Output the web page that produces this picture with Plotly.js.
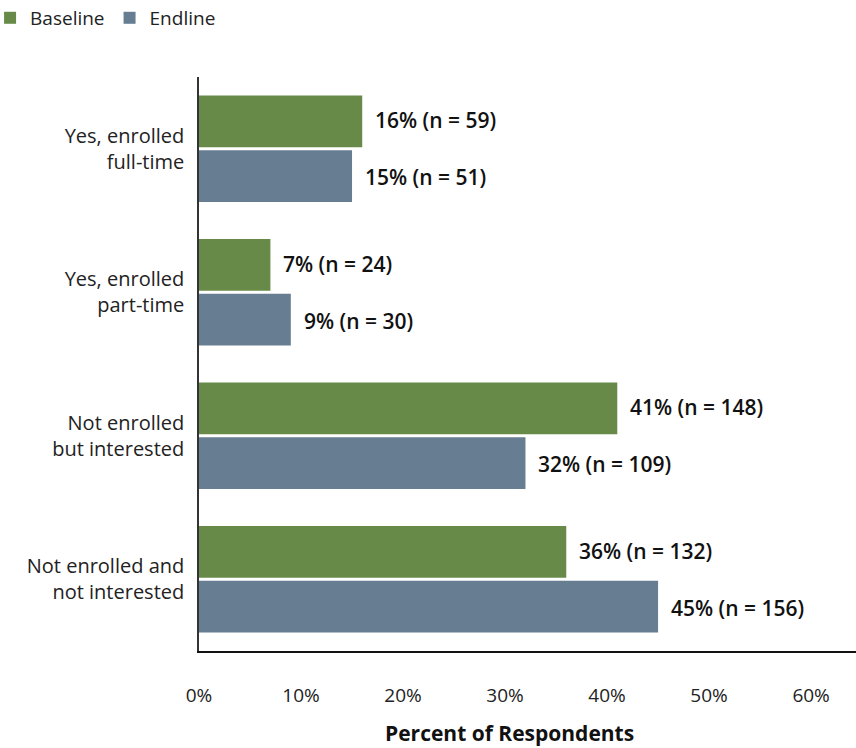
<!DOCTYPE html>
<html><head><meta charset="utf-8">
<script src="https://cdn.plot.ly/plotly-3.0.1.min.js"></script>
<style>body{margin:0;background:#fff}#c{width:856px;height:748px}</style>
</head><body><div id="c"></div>
<script>
const categories = ["Yes, enrolled<br>full-time", "Yes, enrolled<br>part-time", "Not enrolled<br>but interested", "Not enrolled and<br>not interested"];
const baselinePct = [16, 7, 41, 36];
const baselineN = [59, 24, 148, 132];
const endlinePct = [15, 9, 32, 45];
const endlineN = [51, 30, 109, 156];
const seriesNames = ["Baseline", "Endline"];
const tickVals = [0, 10, 20, 30, 40, 50, 60];
const tickText = ["0%", "10%", "20%", "30%", "40%", "50%", "60%"];

const green = "#678A48", blue = "#677D91";
const FONT = "'Open Sans', sans-serif";

const lab = (p, n) => p.map((v, i) => `${v}% (n = ${n[i]})`);
const traces = [
  {type: "bar", orientation: "h", name: seriesNames[0], y: categories, x: baselinePct,
   marker: {color: green}, text: lab(baselinePct, baselineN), textposition: "none", hoverinfo: "x+y"},
  {type: "bar", orientation: "h", name: seriesNames[1], y: categories, x: endlinePct,
   marker: {color: blue}, text: lab(endlinePct, endlineN), textposition: "none", hoverinfo: "x+y"}
];

const annotations = [];
[[baselinePct, baselineN, -0.2], [endlinePct, endlineN, 0.2]].forEach(([p, n, off]) => {
  p.forEach((v, i) => {
    annotations.push({x: v, y: i + off, xref: "x", yref: "y", text: `${v}% (n = ${n[i]})`,
      showarrow: false, xanchor: "left", yanchor: "middle", xshift: 11,
      font: {family: FONT, size: 21, weight: 600, color: "#111"}});
  });
});
annotations.push({x: 0.473, y: (651 - 733) / 574, xref: "paper", yref: "paper", yanchor: "middle", xanchor: "center",
  showarrow: false, text: "<b>Percent of Respondents</b>", font: {family: FONT, size: 21, color: "#111"}});

const layout = {
  width: 856, height: 748,
  margin: {l: 199, r: 0, t: 77, b: 97, autoexpand: false},
  paper_bgcolor: "#fff", plot_bgcolor: "#fff",
  barmode: "group", bargap: 0.236, bargroupgap: 0.055,
  font: {family: FONT, color: "#222"},
  showlegend: true,
  legend: {orientation: "h", x: -0.318, y: 1.136, xanchor: "left", yanchor: "top",
    font: {family: FONT, size: 19, color: "#222"}, itemwidth: 30, traceorder: "normal", bgcolor: "rgba(0,0,0,0)"},
  xaxis: {range: [0, 64.4], tickvals: tickVals, ticktext: tickText, showgrid: false, zeroline: false,
    showline: true, linecolor: "#111", linewidth: 1.5, ticks: "", ticklabelstandoff: 26,
    tickfont: {family: FONT, size: 19, color: "#222"}},
  yaxis: {autorange: "reversed", showgrid: false, zeroline: false, showline: true, linecolor: "#333", linewidth: 1.5,
    ticks: "", ticklabelstandoff: 9, tickfont: {family: FONT, size: 20, color: "#222"}},
  annotations: annotations
};
Plotly.newPlot("c", traces, layout, {displayModeBar: false});
</script></body></html>
